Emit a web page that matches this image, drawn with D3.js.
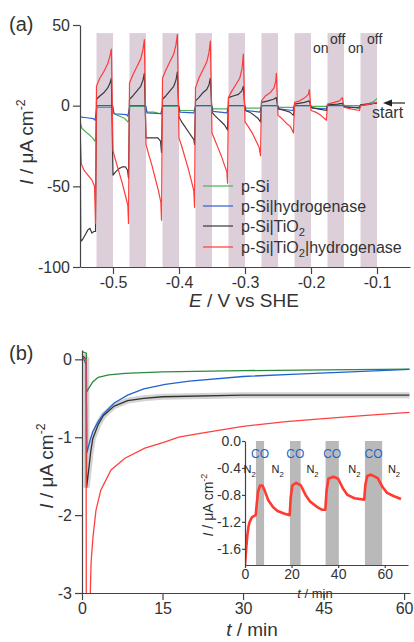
<!DOCTYPE html>
<html>
<head>
<meta charset="utf-8">
<script src="https://cdn.jsdelivr.net/npm/d3@7/dist/d3.min.js"></script>
<style>
	body { margin: 0; background: #fff; }
	svg { display: block; font-family: "Liberation Sans", Arial, sans-serif; }
</style>
</head>
<body>
<div id="chart"></div>
<script>
// panel (a) - chopped light scans, E / V vs SHE against I / uA cm-2
//- - - - - - - - - - - - - - - - - - - - - -
var offBands = [[-0.525, -0.5], [-0.475, -0.45], [-0.425, -0.4], [-0.375, -0.35], [-0.325, -0.3],
	[-0.275, -0.25], [-0.225, -0.2], [-0.175, -0.15], [-0.125, -0.1]];

var scanSi = [
	[-0.550, -10], [-0.547, -14], [-0.542, -16], [-0.536, -18], [-0.531, -20], [-0.5275, -22], [-0.526, -20],
	[-0.5245, -1], [-0.5005, -1],
	[-0.4985, -5], [-0.493, -6], [-0.487, -7], [-0.482, -8], [-0.4775, -10], [-0.476, -9],
	[-0.4745, -0.5], [-0.4505, -0.5],
	[-0.4485, -4], [-0.438, -4], [-0.4275, -5], [-0.426, -4],
	[-0.4245, -0.3], [-0.4005, -0.3],
	[-0.3985, -3], [-0.3775, -3], [-0.376, -2.5],
	[-0.3745, 0], [-0.3505, 0],
	[-0.3485, -2], [-0.3265, -2],
	[-0.3245, 0], [-0.3005, 0],
	[-0.2985, -1.5], [-0.2765, -1.5],
	[-0.2745, 0], [-0.2505, 0],
	[-0.2485, -1], [-0.2265, -1],
	[-0.2245, 0], [-0.2005, 0],
	[-0.1985, -0.5], [-0.1765, -0.5],
	[-0.1745, 0.3], [-0.1505, 0.3],
	[-0.1485, 0], [-0.1265, 0],
	[-0.125, 0.5], [-0.112, 1.5], [-0.105, 2.5], [-0.1, 4.5]
];

var scanSiHyd = [
	[-0.550, -7], [-0.54, -7.5], [-0.53, -8], [-0.527, -9],
	[-0.5245, 0], [-0.5005, 0],
	[-0.4985, -5], [-0.48, -5.5], [-0.4775, -6.5],
	[-0.4745, 0], [-0.4505, 0],
	[-0.4485, -4.5], [-0.4275, -5],
	[-0.4245, 0], [-0.4005, 0],
	[-0.3985, -4], [-0.3775, -4.5],
	[-0.3745, 0], [-0.3505, 0],
	[-0.3485, -3.5], [-0.3275, -4.5],
	[-0.3245, 0], [-0.3005, 0],
	[-0.2985, -3], [-0.2775, -4],
	[-0.2745, 0], [-0.2505, 0],
	[-0.2485, -2], [-0.2275, -3],
	[-0.2245, 0], [-0.2005, 0],
	[-0.1985, -1.5], [-0.1775, -2],
	[-0.1745, 0], [-0.1505, 0],
	[-0.1485, -1], [-0.1275, -1],
	[-0.1245, 0], [-0.11, 1], [-0.1, 2]
];

var scanSiTiO2 = [
	[-0.550, -6], [-0.5488, -84], [-0.546, -83], [-0.542, -80], [-0.538, -77], [-0.535, -76], [-0.532, -79], [-0.529, -78], [-0.5265, -78],
	[-0.525, 4], [-0.520, 6], [-0.514, 8], [-0.508, 11], [-0.5045, 14], [-0.5025, 17], [-0.5, -43],
	[-0.496, -41], [-0.491, -39], [-0.486, -38], [-0.481, -38], [-0.478, -40], [-0.4765, -45],
	[-0.475, 4], [-0.470, 6], [-0.464, 9], [-0.458, 12], [-0.4545, 16], [-0.4525, 20], [-0.45, -20],
	[-0.44, -20], [-0.432, -20], [-0.428, -22], [-0.4265, -29],
	[-0.425, 4], [-0.420, 6], [-0.414, 9], [-0.408, 12], [-0.4045, 16], [-0.4025, 21], [-0.4, -7],
	[-0.396, -10], [-0.391, -13], [-0.386, -16], [-0.381, -19], [-0.3775, -21], [-0.3765, -24],
	[-0.375, 3], [-0.370, 5], [-0.364, 8], [-0.358, 10], [-0.3545, 13], [-0.3525, 17], [-0.35, -4],
	[-0.346, -6], [-0.341, -8], [-0.336, -10], [-0.331, -12], [-0.3265, -15],
	[-0.325, 5], [-0.318, 6], [-0.310, 7], [-0.305, 9], [-0.3025, 12], [-0.3, -3],
	[-0.293, -4], [-0.286, -6], [-0.280, -8], [-0.2765, -10],
	[-0.275, 2], [-0.265, 3], [-0.257, 4], [-0.2525, 5], [-0.25, -2],
	[-0.24, -3], [-0.232, -4], [-0.2265, -6],
	[-0.225, 1], [-0.21, 2], [-0.2025, 3], [-0.2, -1],
	[-0.19, -2], [-0.1765, -3],
	[-0.175, 0.5], [-0.16, 1], [-0.1525, 1.5], [-0.15, -0.5],
	[-0.1265, -1.5],
	[-0.125, 0.5], [-0.1, 1.5]
];

var scanSiTiO2Hyd = [
	[-0.550, -14], [-0.548, -36], [-0.544, -40], [-0.538, -43], [-0.532, -46], [-0.528, -50], [-0.5265, -73],
	[-0.525, 12], [-0.520, 17], [-0.514, 21], [-0.508, 26], [-0.5045, 31], [-0.5025, 35], [-0.5, -28],
	[-0.496, -34], [-0.491, -41], [-0.486, -48], [-0.481, -56], [-0.4775, -62], [-0.4765, -73],
	[-0.475, 14], [-0.470, 19], [-0.464, 24], [-0.458, 29], [-0.4545, 35], [-0.4525, 41], [-0.45, -24],
	[-0.446, -30], [-0.441, -37], [-0.436, -45], [-0.431, -53], [-0.4275, -60], [-0.4265, -71],
	[-0.425, 17], [-0.420, 22], [-0.414, 27], [-0.408, 32], [-0.4045, 38], [-0.4025, 44], [-0.4, -20],
	[-0.396, -25], [-0.391, -32], [-0.386, -39], [-0.381, -47], [-0.3775, -53], [-0.3765, -63],
	[-0.375, 11], [-0.370, 17], [-0.364, 22], [-0.358, 27], [-0.3545, 33], [-0.3525, 40], [-0.35, -17],
	[-0.346, -21], [-0.341, -26], [-0.336, -31], [-0.331, -37], [-0.3275, -41], [-0.3265, -48],
	[-0.325, 5], [-0.320, 9], [-0.314, 13], [-0.308, 17], [-0.3045, 23], [-0.3025, 32], [-0.3, -10],
	[-0.295, -13], [-0.289, -17], [-0.283, -22], [-0.2785, -26], [-0.2765, -31],
	[-0.275, 3], [-0.269, 6], [-0.262, 8], [-0.256, 11], [-0.2535, 15], [-0.2525, 20], [-0.25, -6],
	[-0.244, -8], [-0.237, -11], [-0.231, -13], [-0.2265, -17],
	[-0.225, 2], [-0.217, 3], [-0.209, 5], [-0.204, 7], [-0.2025, 10], [-0.2, -3],
	[-0.193, -4], [-0.185, -6], [-0.1765, -9],
	[-0.175, 1], [-0.165, 2], [-0.157, 3], [-0.1525, 5], [-0.15, -1],
	[-0.14, -2], [-0.1265, -3],
	[-0.125, 0], [-0.112, 1], [-0.1, 2]
];

var legendNames = ['p-Si', 'p-Si|hydrogenase', 'p-Si|TiO2', 'p-Si|TiO2|hydrogenase'];
var ticksE = [-0.5, -0.4, -0.3, -0.2, -0.1];
var minorE = [-0.45, -0.35, -0.25, -0.15, -0.05];
var ticksIa = [50, 0, -50, -100];
var minorIa = [25, -25, -75];

// panel (b) - transients at fixed potential, t / min against I / uA cm-2
//- - - - - - - - - - - - - - - - - - - - - -
var transSi = [[0, 0.1], [0.8, 0.08], [0.85, -0.42], [1.2, -0.38], [2, -0.29], [3, -0.23], [5, -0.2], [8, -0.18],
	[15, -0.16], [30, -0.145], [45, -0.135], [61, -0.125]];
var transSiHyd = [[0, 0.05], [0.5, -0.02], [0.8, -0.08], [0.9, -1.2], [1.5, -1.04], [2, -0.93], [3, -0.8], [4, -0.7],
	[6, -0.56], [8.5, -0.46], [11.5, -0.38], [15.5, -0.32], [20, -0.28], [30, -0.22], [40, -0.19], [50, -0.16], [61, -0.13]];
var transSiTiO2 = [[0, 0.05], [0.8, 0.0], [0.85, -1.65], [1.2, -1.45], [1.6, -1.2], [2, -1.02], [3, -0.84], [4, -0.72],
	[6, -0.6], [8.5, -0.53], [11.5, -0.5], [15, -0.48], [30, -0.46], [45, -0.46], [61, -0.46]];
var transSiTiO2Hyd = [[0, 0.03], [0.75, 0.0], [0.8, -3.3], [1.45, -3.3], [1.6, -2.85], [1.7, -2.6], [2.05, -2.28],
	[2.6, -1.94], [3.5, -1.68], [5.4, -1.42], [8, -1.27], [11.7, -1.14], [15.5, -1.06], [18, -1.0], [22, -0.95],
	[30, -0.86], [38, -0.8], [45, -0.76], [53, -0.72], [61, -0.68]];
var ticksT = [0, 15, 30, 45, 60];
var minorT = [7.5, 22.5, 37.5, 52.5];
var ticksIb = [0, -1, -2, -3];
var minorIb = [-0.5, -1.5, -2.5];

// inset - CO inhibition, N2 / CO switching
//- - - - - - - - - - - - - - - - - - - - - -
var coBands = [[4.7, 8.2], [19.3, 23.9], [34.6, 40.3], [51.5, 58.9]];
var coTrace = [[0, -1.84], [0.5, -1.6], [1, -1.4], [1.5, -1.27], [2, -1.2], [3, -1.13], [4.6, -1.1], [5, -0.95],
	[5.6, -0.75], [6.5, -0.66], [7.5, -0.66], [8.5, -0.74], [10, -0.88], [12, -0.98], [14, -1.04], [17, -1.08],
	[19.2, -1.1], [19.6, -0.85], [20.3, -0.66], [22, -0.62], [24, -0.66], [26, -0.8], [28, -0.9], [31, -0.98],
	[33, -1.02], [34.5, -1.02], [35, -0.75], [35.8, -0.56], [38, -0.53], [40, -0.56], [42, -0.7], [44, -0.8],
	[47, -0.85], [51.2, -0.87], [51.7, -0.65], [52.5, -0.52], [54, -0.5], [57, -0.55], [59, -0.68], [61, -0.77],
	[64, -0.82], [67, -0.86]];
var n2LabelT = [2, 14, 29, 47, 64];
var ticksTi = [0, 20, 40, 60];
var ticksIi = [0, -0.4, -0.8, -1.2, -1.6];

(function (d3) {
	var svg = d3.select('#chart').append('svg')
		.attr('width', 414)
		.attr('height', 642);

	var axisColor = '#444',
		textColor = '#333';

	// writes a string and drops the digit after an element symbol to a subscript
	//- - - - - - - - - - - - - - - - - - - - - -
	var writeChem = function (textSel, str) {
		var parts = str.split(/(\d)/);
		var shifted = false;
		parts.forEach(function (p) {
			if (p === '') { return; }
			if (/^\d$/.test(p)) {
				textSel.append('tspan').attr('dy', 4).attr('font-size', '0.7em').text(p);
				shifted = true;
			} else {
				textSel.append('tspan').attr('dy', shifted ? -4 : 0).text(p);
				shifted = false;
			}
		});
	};

	// axis label "I / uA cm-2", rotated
	//- - - - - - - - - - - - - - - - - - - - - -
	var currentLabel = function (x, y, size) {
		var t = svg.append('text')
			.attr('transform', 'translate(' + x + ',' + y + ') rotate(-90)')
			.attr('text-anchor', 'middle')
			.attr('font-size', size)
			.attr('fill', textColor);
		t.append('tspan').attr('font-style', 'italic').text('I');
		t.append('tspan').text(' / \u03bcA cm');
		t.append('tspan').attr('dy', -size * 0.4).attr('font-size', size * 0.65).text('-2');
	};

	var styleAxis = function (g, fontSize) {
		g.selectAll('path').attr('stroke', axisColor).attr('stroke-width', 1.2);
		g.selectAll('line').attr('stroke', axisColor).attr('stroke-width', 1.2);
		g.selectAll('text').attr('fill', textColor).attr('font-size', fontSize)
			.attr('font-family', '"Liberation Sans", Arial, sans-serif');
	};

	var drawAxes = function (opt) {
		var gx = svg.append('g').attr('transform', 'translate(0,' + opt.y.range()[0] + ')');
		gx.call(d3.axisBottom(opt.x).tickValues(opt.minorX).tickSize(4).tickSizeOuter(0).tickFormat(''));
		gx.call(d3.axisBottom(opt.x).tickValues(opt.ticksX).tickSize(opt.tick).tickSizeOuter(0)
			.tickPadding(opt.pad).tickFormat(opt.fmtX));
		styleAxis(gx, opt.font);

		var gy = svg.append('g').attr('transform', 'translate(' + opt.x.range()[0] + ',0)');
		gy.call(d3.axisLeft(opt.y).tickValues(opt.minorY).tickSize(4).tickSizeOuter(0).tickFormat(''));
		gy.call(d3.axisLeft(opt.y).tickValues(opt.ticksY).tickSize(opt.tick).tickSizeOuter(0)
			.tickPadding(opt.pad).tickFormat(opt.fmtY));
		styleAxis(gy, opt.font);
	};

	var clip = function (id, x, y) {
		svg.append('clipPath').attr('id', id).append('rect')
			.attr('x', x.range()[0]).attr('y', y.range()[1] - 6)
			.attr('width', x.range()[1] - x.range()[0])
			.attr('height', y.range()[0] - y.range()[1] + 6);
	};

	// - - - - - - - - - - - - - - - - - - - - - - panel (a)
	var xA = d3.scaleLinear().domain([-0.55, -0.05]).range([80, 410]);
	var yA = d3.scaleLinear().domain([-100, 50]).range([267, 25]);

	svg.append('g').selectAll('rect')
		.data(offBands)
		.enter()
		.append('rect')
		.attr('x', function (d) { return xA(d[0]); })
		.attr('width', function (d) { return xA(d[1]) - xA(d[0]); })
		.attr('y', yA(45))
		.attr('height', yA(-100) - yA(45))
		.attr('fill', '#dccfda');

	clip('clipA', xA, yA);
	var lineA = d3.line()
		.x(function (d) { return xA(d[0]); })
		.y(function (d) { return yA(d[1]); });

	var seriesA = [
		{ data: scanSi, color: '#4fb152' },
		{ data: scanSiHyd, color: '#2d5fd3' },
		{ data: scanSiTiO2, color: '#3a3a3a' },
		{ data: scanSiTiO2Hyd, color: '#ff3b3b' }
	];

	svg.append('g').attr('clip-path', 'url(#clipA)')
		.selectAll('path')
		.data(seriesA)
		.enter()
		.append('path')
		.attr('d', function (d) { return lineA(d.data); })
		.attr('fill', 'none')
		.attr('stroke', function (d) { return d.color; })
		.attr('stroke-width', 1.2)
		.attr('stroke-linejoin', 'round');

	drawAxes({
		x: xA, y: yA, ticksX: ticksE, minorX: minorE, ticksY: ticksIa, minorY: minorIa,
		tick: 7, pad: 3, font: 16,
		fmtX: function (d) { return d.toFixed(1); },
		fmtY: function (d) { return String(d); }
	});

	// legend
	var legend = svg.append('g').selectAll('g')
		.data(seriesA)
		.enter()
		.append('g')
		.attr('transform', function (d, i) { return 'translate(203,' + [186, 206, 226, 247][i] + ')'; });
	legend.append('line')
		.attr('x1', 0).attr('x2', 30)
		.attr('stroke', function (d) { return d.color; })
		.attr('stroke-width', 1.2);
	legend.append('text')
		.attr('x', 38).attr('y', 5.5)
		.attr('font-size', 16)
		.attr('fill', textColor)
		.each(function (d, i) { writeChem(d3.select(this), legendNames[i]); });

	// on / off marks and the scan start arrow
	[['on', 313, 53], ['off', 330, 44], ['on', 348, 53], ['off', 367, 44]].forEach(function (m) {
		svg.append('text').attr('x', m[1]).attr('y', m[2])
			.attr('font-size', 14).attr('fill', textColor).text(m[0]);
	});
	svg.append('line')
		.attr('x1', 405).attr('x2', 390).attr('y1', 103).attr('y2', 103)
		.attr('stroke', '#222').attr('stroke-width', 1.2);
	svg.append('path')
		.attr('d', 'M383,103 L392,99.5 L392,106.5 Z')
		.attr('fill', '#222');
	svg.append('text').attr('x', 372).attr('y', 118)
		.attr('font-size', 16).attr('fill', textColor).text('start');

	svg.append('text').attr('x', 9).attr('y', 31)
		.attr('font-size', 20).attr('fill', textColor).text('(a)');
	currentLabel(33, 142, 19);
	var eLabel = svg.append('text').attr('x', 244).attr('y', 307)
		.attr('text-anchor', 'middle').attr('font-size', 19).attr('fill', textColor);
	eLabel.append('tspan').attr('font-style', 'italic').text('E');
	eLabel.append('tspan').text(' / V vs SHE');

	// - - - - - - - - - - - - - - - - - - - - - - panel (b)
	var xB = d3.scaleLinear().domain([0, 61.1]).range([82, 410]);
	var yB = d3.scaleLinear().domain([-3, 0.12]).range([593, 350]);

	clip('clipB', xB, yB);
	var lineB = d3.line()
		.x(function (d) { return xB(d[0]); })
		.y(function (d) { return yB(d[1]); });

	var gB = svg.append('g').attr('clip-path', 'url(#clipB)');
	// noise band behind the TiO2 trace
	gB.append('path')
		.attr('d', lineB(transSiTiO2))
		.attr('fill', 'none')
		.attr('stroke', '#a8a8a8')
		.attr('stroke-opacity', 0.5)
		.attr('stroke-width', 6);

	var seriesB = [
		{ data: transSiTiO2, color: '#333333' },
		{ data: transSi, color: '#2a8a3c' },
		{ data: transSiHyd, color: '#1f63d0' },
		{ data: transSiTiO2Hyd, color: '#ff4040' }
	];
	gB.selectAll('path.trace')
		.data(seriesB)
		.enter()
		.append('path')
		.attr('class', 'trace')
		.attr('d', function (d) { return lineB(d.data); })
		.attr('fill', 'none')
		.attr('stroke', function (d) { return d.color; })
		.attr('stroke-width', 1.3);

	drawAxes({
		x: xB, y: yB, ticksX: ticksT, minorX: minorT, ticksY: ticksIb, minorY: minorIb,
		tick: 7, pad: 3, font: 16,
		fmtX: function (d) { return String(d); },
		fmtY: function (d) { return String(d); }
	});

	svg.append('text').attr('x', 9).attr('y', 360)
		.attr('font-size', 20).attr('fill', textColor).text('(b)');
	currentLabel(53, 466, 19);
	var tLabel = svg.append('text').attr('x', 252).attr('y', 636)
		.attr('text-anchor', 'middle').attr('font-size', 19).attr('fill', textColor);
	tLabel.append('tspan').attr('font-style', 'italic').text('t');
	tLabel.append('tspan').text(' / min');

	// - - - - - - - - - - - - - - - - - - - - - - inset
	var xI = d3.scaleLinear().domain([0, 70]).range([245, 408]);
	var yI = d3.scaleLinear().domain([-1.84, 0]).range([565, 441]);

	svg.append('g').selectAll('rect')
		.data(coBands)
		.enter()
		.append('rect')
		.attr('x', function (d) { return xI(d[0]); })
		.attr('width', function (d) { return xI(d[1]) - xI(d[0]); })
		.attr('y', yI(0))
		.attr('height', yI(-1.84) - yI(0))
		.attr('fill', '#b9b9b9');

	clip('clipI', xI, yI);
	var lineI = d3.line()
		.x(function (d) { return xI(d[0]); })
		.y(function (d) { return yI(d[1]); });
	svg.append('path')
		.attr('clip-path', 'url(#clipI)')
		.attr('d', lineI(coTrace))
		.attr('fill', 'none')
		.attr('stroke', '#ff3a30')
		.attr('stroke-width', 2.6)
		.attr('stroke-linejoin', 'round');

	drawAxes({
		x: xI, y: yI, ticksX: ticksTi, minorX: [], ticksY: ticksIi, minorY: [],
		tick: 3, pad: 1, font: 14,
		fmtX: function (d) { return String(d); },
		fmtY: function (d) { return d.toFixed(1); }
	});

	svg.append('g').selectAll('text')
		.data(coBands)
		.enter()
		.append('text')
		.attr('x', function (d) { return xI((d[0] + d[1]) / 2); })
		.attr('y', 458)
		.attr('text-anchor', 'middle')
		.attr('font-size', 12)
		.attr('fill', '#1f66d0')
		.text('CO');

	svg.append('g').selectAll('text')
		.data(n2LabelT)
		.enter()
		.append('text')
		.attr('x', function (d) { return xI(d); })
		.attr('y', 473)
		.attr('text-anchor', 'middle')
		.attr('font-size', 11)
		.attr('fill', '#222')
		.each(function () { writeChem(d3.select(this), 'N2'); });

	currentLabel(213, 505, 14);
	var tiLabel = svg.append('text').attr('x', 315).attr('y', 598)
		.attr('text-anchor', 'middle').attr('font-size', 13).attr('fill', textColor);
	tiLabel.append('tspan').attr('font-style', 'italic').text('t');
	tiLabel.append('tspan').text(' / min');

})(d3);
</script>
</body>
</html>
